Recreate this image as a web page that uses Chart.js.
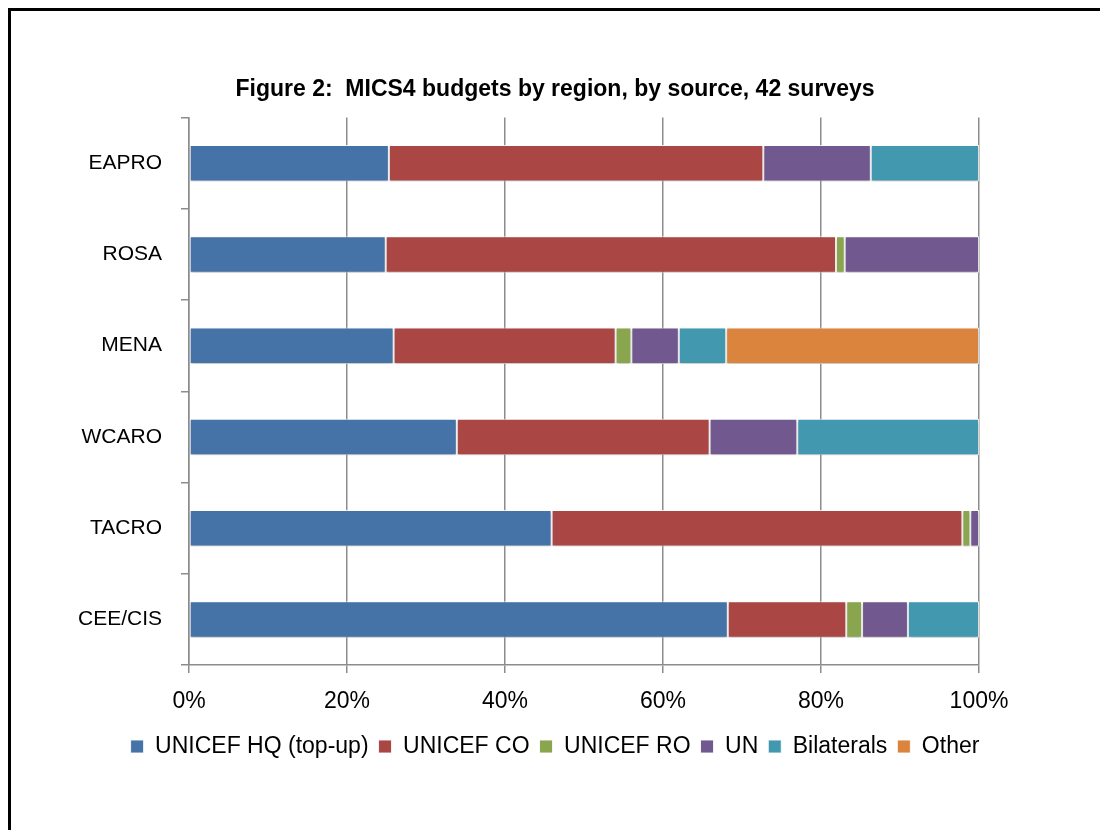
<!DOCTYPE html>
<html>
<head>
<meta charset="utf-8">
<script src="https://cdn.jsdelivr.net/npm/chart.js@4/dist/chart.umd.min.js"></script>
<style>
  html, body { margin: 0; padding: 0; background: #fff; overflow: hidden; }
  #wrap { position: relative; width: 1100px; height: 830px; }
  #frame { position: absolute; left: 8px; top: 8px; width: 1200px; height: 1000px;
           border-top: 3px solid #000; border-left: 3px solid #000; pointer-events: none; }
  canvas { position: absolute; left: 0; top: 0; }
</style>
</head>
<body>
<div id="wrap">
  <canvas id="myChart" width="1100" height="830"></canvas>
  <div id="frame"></div>
</div>
<script>
// regions (top to bottom as drawn)
const regions = ['EAPRO', 'ROSA', 'MENA', 'WCARO', 'TACRO', 'CEE/CIS'];

// share of budget by source, percent
const hqTopUp    = [25.3, 24.9, 25.9, 33.9, 45.9, 68.2];
const unicefCO   = [47.4, 57.0, 28.1, 32.0, 52.0, 15.0];
const unicefRO   = [0,    1.1,  2.0,  0,    1.0,  2.0];
const unAgencies = [13.6, 17.0, 6.0,  11.1, 1.1,  5.8];
const bilaterals = [13.7, 0,    6.0,  23.0, 0,    9.0];
const other      = [0,    0,    32.0, 0,    0,    0];

const xTicks = [0, 20, 40, 60, 80, 100];

const font = "'Liberation Sans', Arial, sans-serif";

function ds(label, data, color) {
    return {
        label,
        data,
        backgroundColor: color,
        borderColor: 'rgba(255,255,255,0.85)',
        borderWidth: 1,
        borderSkipped: false,
        barPercentage: 0.4,
        categoryPercentage: 1.0,
    };
}

const barShadow = {
    id: 'barShadow',
    beforeDatasetsDraw(chart) {
        const c = chart.ctx;
        c.save();
        c.shadowColor = 'rgba(0,0,0,0.25)';
        c.shadowOffsetY = 2;
        c.shadowBlur = 3;
    },
    afterDatasetsDraw(chart) {
        chart.ctx.restore();
    }
};

const ctx = document.getElementById('myChart');
new Chart(ctx, {
    type: 'bar',
    data: {
        labels: regions,
        datasets: [
            ds('UNICEF HQ (top-up)', hqTopUp, '#4572A7'),
            ds('UNICEF CO', unicefCO, '#AA4643'),
            ds('UNICEF RO', unicefRO, '#89A54E'),
            ds('UN', unAgencies, '#71588F'),
            ds('Bilaterals', bilaterals, '#4198AF'),
            ds('Other', other, '#DB843D'),
        ]
    },
    options: {
        indexAxis: 'y',
        responsive: false,
        animation: false,
        layout: { padding: { left: 74, right: 64, top: 0, bottom: 62 } },
        plugins: {
            title: {
                display: true,
                text: 'Figure 2:  MICS4 budgets by region, by source, 42 surveys',
                color: '#000',
                font: { family: font, size: 23, weight: 'bold', lineHeight: 1.2 },
                padding: { top: 76, bottom: 14 }
            },
            legend: {
                position: 'bottom',
                labels: {
                    color: '#000',
                    font: { family: font, size: 23 },
                    boxWidth: 13,
                    boxHeight: 13,
                    padding: 10
                }
            },
            tooltip: { enabled: false }
        },
        scales: {
            x: {
                stacked: true,
                min: 0,
                max: 100,
                afterBuildTicks(scale) {
                    scale.ticks = xTicks.map(v => ({ value: v }));
                },
                afterFit(scale) { scale.height = 60; },
                ticks: {
                    color: '#000',
                    font: { family: font, size: 23 },
                    padding: 15,
                    callback: v => v + '%'
                },
                grid: { color: '#8c8c8c', lineWidth: 1.5, tickLength: 8 },
                border: { color: '#8c8c8c', width: 1.5 }
            },
            y: {
                stacked: true,
                afterFit(scale) { scale.width = 115; },
                ticks: {
                    color: '#000',
                    font: { family: font, size: 21 },
                    padding: 19
                },
                grid: { drawOnChartArea: false, offset: true, tickLength: 8, color: '#8c8c8c', lineWidth: 1.5 },
                border: { color: '#8c8c8c', width: 1.5 }
            },
            // empty spacer on the right so title and legend sit where they do in the figure
            spacer: {
                type: 'category',
                axis: 'y',
                position: 'right',
                labels: regions,
                afterFit(scale) { scale.width = 57; },
                ticks: { display: false },
                grid: { display: false },
                border: { display: false }
            }
        }
    },
    plugins: [barShadow]
});
</script>
</body>
</html>
